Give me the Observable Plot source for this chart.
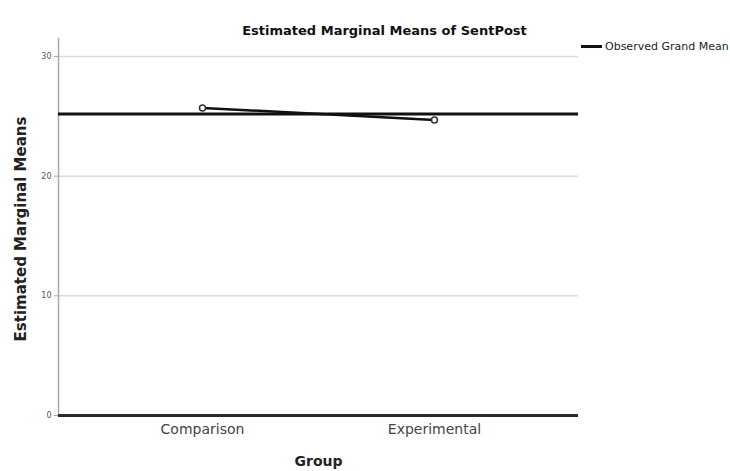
<!DOCTYPE html>
<html>
<head>
<meta charset="utf-8">
<script src="https://cdn.jsdelivr.net/npm/d3@7"></script>
<script src="https://cdn.jsdelivr.net/npm/@observablehq/plot@0.6"></script>
<style>
  html, body { margin: 0; padding: 0; background: #fff; }
  #wrap { position: relative; width: 730px; height: 471px; overflow: hidden; font-family: "DejaVu Sans", sans-serif; }
  #legend { position: absolute; left: 581px; top: 40px; display: flex; align-items: center; white-space: nowrap; font-size: 11px; color: #222; }
  #legend .sw { width: 21px; height: 3px; background: #111; margin-right: 3px; }
</style>
</head>
<body>
<div id="wrap">
  <div id="chart"></div>
  <div id="legend"><span class="sw"></span><span>Observed Grand Mean</span></div>
</div>
<script>
const groups = ["Comparison", "Experimental"];
const means = [25.7, 24.7];
const grandMean = [25.2];
const yTicks = [0, 10, 20, 30];
const titleText = "Estimated Marginal Means of SentPost";
const xLabel = "Group";
const yLabel = "Estimated Marginal Means";

const data = groups.map((g, i) => ({group: g, mean: means[i]}));

const chart = Plot.plot({
  width: 730,
  height: 471,
  marginLeft: 58,
  marginRight: 152,
  marginTop: 38,
  marginBottom: 56,
  style: {fontFamily: "DejaVu Sans, sans-serif", background: "#fff"},
  x: {type: "point", domain: groups, padding: 0.616},
  y: {domain: [0, 31.5]},
  marks: [
    Plot.gridY(yTicks, {stroke: "#dcdcdc", strokeOpacity: 1, strokeWidth: 1.5}),
    Plot.frame({anchor: "left", stroke: "#aaa", strokeWidth: 1.5}),
    Plot.axisY(yTicks, {tickSize: 4, tickPadding: 3, fontSize: 8, fill: "#555", stroke: "#aaa", label: null}),
    Plot.axisX({tickSize: 0, tickPadding: 9, fontSize: 14, fill: "#444", label: null}),
    Plot.ruleY([0], {stroke: "#2a2a2a", strokeWidth: 3}),
    Plot.ruleY(grandMean, {stroke: "#111", strokeWidth: 3}),
    Plot.line(data, {x: "group", y: "mean", stroke: "#111", strokeWidth: 2.5}),
    Plot.dot(data, {x: "group", y: "mean", r: 3, fill: "#fff", stroke: "#333", strokeWidth: 1.5}),
    Plot.text([titleText], {frameAnchor: "top", dx: 66, dy: -13, fontSize: 13, fontWeight: "bold", fill: "#111"}),
    Plot.text([xLabel], {frameAnchor: "bottom", dy: 50, fontSize: 14, fontWeight: "bold", fill: "#222"}),
    Plot.text([yLabel], {frameAnchor: "left", textAnchor: "middle", rotate: -90, dx: -37, dy: 2, fontSize: 15, fontWeight: "bold", fill: "#222"})
  ]
});
document.getElementById("chart").appendChild(chart);
</script>
</body>
</html>
